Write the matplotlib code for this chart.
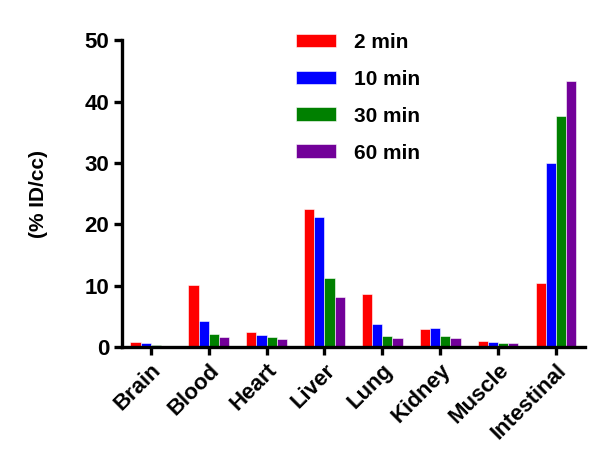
import numpy as np
import matplotlib
matplotlib.use("Agg")
import matplotlib.pyplot as plt

plt.rcParams["font.family"] = ["Liberation Sans", "DejaVu Sans"]

organs = ["Brain", "Blood", "Heart", "Liver", "Lung", "Kidney", "Muscle", "Intestinal"]
times = ["2 min", "10 min", "30 min", "60 min"]
v2 = [0.8, 10.1, 2.5, 22.5, 8.6, 2.9, 1.0, 10.4]
v10 = [0.6, 4.2, 2.0, 21.2, 3.7, 3.1, 0.8, 30.0]
v30 = [0.4, 2.1, 1.6, 11.3, 1.9, 1.8, 0.6, 37.7]
v60 = [0.2, 1.7, 1.3, 8.2, 1.5, 1.5, 0.6, 43.4]
colors = ["#ff0000", "#0000ff", "#008000", "#720099"]

fig = plt.figure(figsize=(6.0, 4.73), dpi=100)
ax = fig.add_axes([0.203, 0.266, 0.772, 0.649])

x = np.arange(len(organs))
w = 0.175
for i, (vals, lab, col) in enumerate(zip([v2, v10, v30, v60], times, colors)):
    ax.bar(x + (i - 1.5) * w, vals, width=w, color=col, label=lab, edgecolor="white", linewidth=0.4)

ax.set_xlim(-0.5, 7.5)
ax.set_ylim(0, 50)
ax.set_yticks([0, 10, 20, 30, 40, 50])
ax.set_xticks(x)
ax.set_xticklabels(organs, rotation=45, ha="right", rotation_mode="anchor", fontsize=16, fontweight="bold")
for t in ax.get_yticklabels():
    t.set_fontsize(16); t.set_fontweight("bold")
ax.set_ylabel("(% ID/cc)", fontsize=15, fontweight="bold", labelpad=26)

for s in ["top", "right"]:
    ax.spines[s].set_visible(False)
for s in ["left", "bottom"]:
    ax.spines[s].set_linewidth(2.4)
ax.tick_params(width=2.4, length=6, direction="out", pad=3)

ax.legend(frameon=False, loc="upper left", bbox_to_anchor=(0.335, 1.085),
          prop={"weight": "bold", "size": 15}, handlelength=1.95, handleheight=0.65,
          labelspacing=0.86, handletextpad=0.85)

fig.savefig("out.png", dpi=100)
